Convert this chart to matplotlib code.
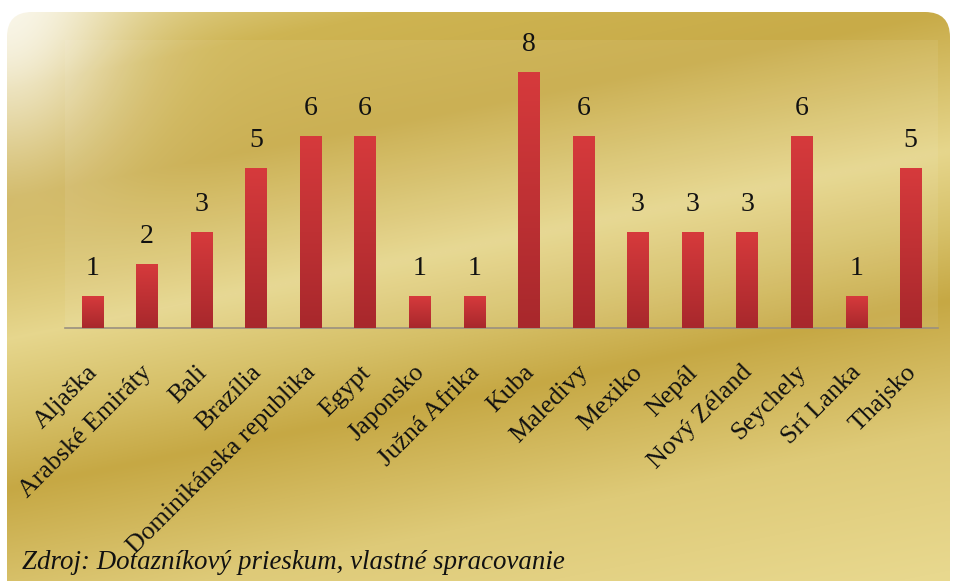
import matplotlib.pyplot as plt
import numpy as np
from matplotlib.patches import FancyBboxPatch
from matplotlib.transforms import ScaledTranslation

plt.rcParams['font.family'] = 'serif'
plt.rcParams['font.serif'] = ['Liberation Serif', 'DejaVu Serif']

countries = ['Aljaška', 'Arabské Emiráty', 'Bali', 'Brazília', 'Dominikánska republika',
             'Egypt', 'Japonsko', 'Južná Afrika', 'Kuba', 'Maledivy', 'Mexiko',
             'Nepál', 'Nový Zéland', 'Seychely', 'Srí Lanka', 'Thajsko']
counts = [1, 2, 3, 5, 6, 6, 1, 1, 8, 6, 3, 3, 3, 6, 1, 5]
source = 'Zdroj: Dotazníkový prieskum, vlastné spracovanie'

W, H = 957, 581
fig = plt.figure(figsize=(W / 100, H / 100), dpi=100)
fig.patch.set_facecolor('white')

# gold card background
bg = fig.add_axes([0, 0, 1, 1])
bg.set_xlim(0, W)
bg.set_ylim(H, 0)
bg.axis('off')

yy, xx = np.mgrid[0:H, 0:W]
u = yy + 0.2 * xx
stops = [0, 90, 200, 340, 420, 490, 620, 760]
cols = np.array([(228, 214, 150), (206, 180, 82), (200, 171, 72), (230, 214, 140),
                 (214, 192, 104), (198, 168, 68), (222, 202, 120), (232, 216, 142)]) / 255
img = np.stack([np.interp(u, stops, cols[:, k]) for k in range(3)], axis=-1)
glare = np.exp(-(((xx - 5) / 120) ** 2 + ((yy - 10) / 160) ** 2))
img = img + (1 - img) * glare[..., None] * 0.8
card = FancyBboxPatch((7, 12), 943, 620, boxstyle='round,pad=0,rounding_size=25',
                      transform=bg.transData, facecolor='none', edgecolor='none')
bg.add_patch(card)
im = bg.imshow(img, extent=(0, W, H, 0), aspect='auto')
im.set_clip_path(card)

# plot area
ax = fig.add_axes([65 / W, 1 - 328 / H, (938 - 65) / W, (328 - 40) / H])
ax.set_facecolor((1, 1, 1, 0.07))
x = np.arange(len(countries))
bars = ax.bar(x, counts, width=0.39, color='#c83236', zorder=2)

grad = np.linspace(0, 1, 100)[:, None]
top, bot = np.array([214, 58, 60]) / 255, np.array([168, 40, 44]) / 255
gimg = (top * (1 - grad)[..., None] + bot * grad[..., None])
for b in bars:
    ax.imshow(gimg, extent=(b.get_x(), b.get_x() + b.get_width(), 0, b.get_height()),
              aspect='auto', zorder=3, origin='upper')

ax.bar_label(bars, padding=11, fontsize=20, color='#111111')
ax.set_xlim(-0.5, len(countries) - 0.5)
ax.set_ylim(0, 9)
ax.set_yticks([])
ax.set_xticks(x)
ax.set_xticklabels(countries, rotation=45, ha='right', va='top',
                   rotation_mode='anchor', fontsize=18.7, color='#111111')
ax.tick_params(axis='x', length=0, pad=24)
shift = ScaledTranslation(-6 / 100, 0, fig.dpi_scale_trans)
for lab in ax.get_xticklabels():
    lab.set_transform(lab.get_transform() + shift)
for s in ['top', 'right', 'left']:
    ax.spines[s].set_visible(False)
ax.spines['bottom'].set_color('#9a9080')
ax.spines['bottom'].set_linewidth(1.2)

fig.text(22 / W, 1 - 569 / H, source, fontsize=19.4, style='italic',
         color='#111111', va='baseline')

fig.savefig('out.png', dpi=100)
